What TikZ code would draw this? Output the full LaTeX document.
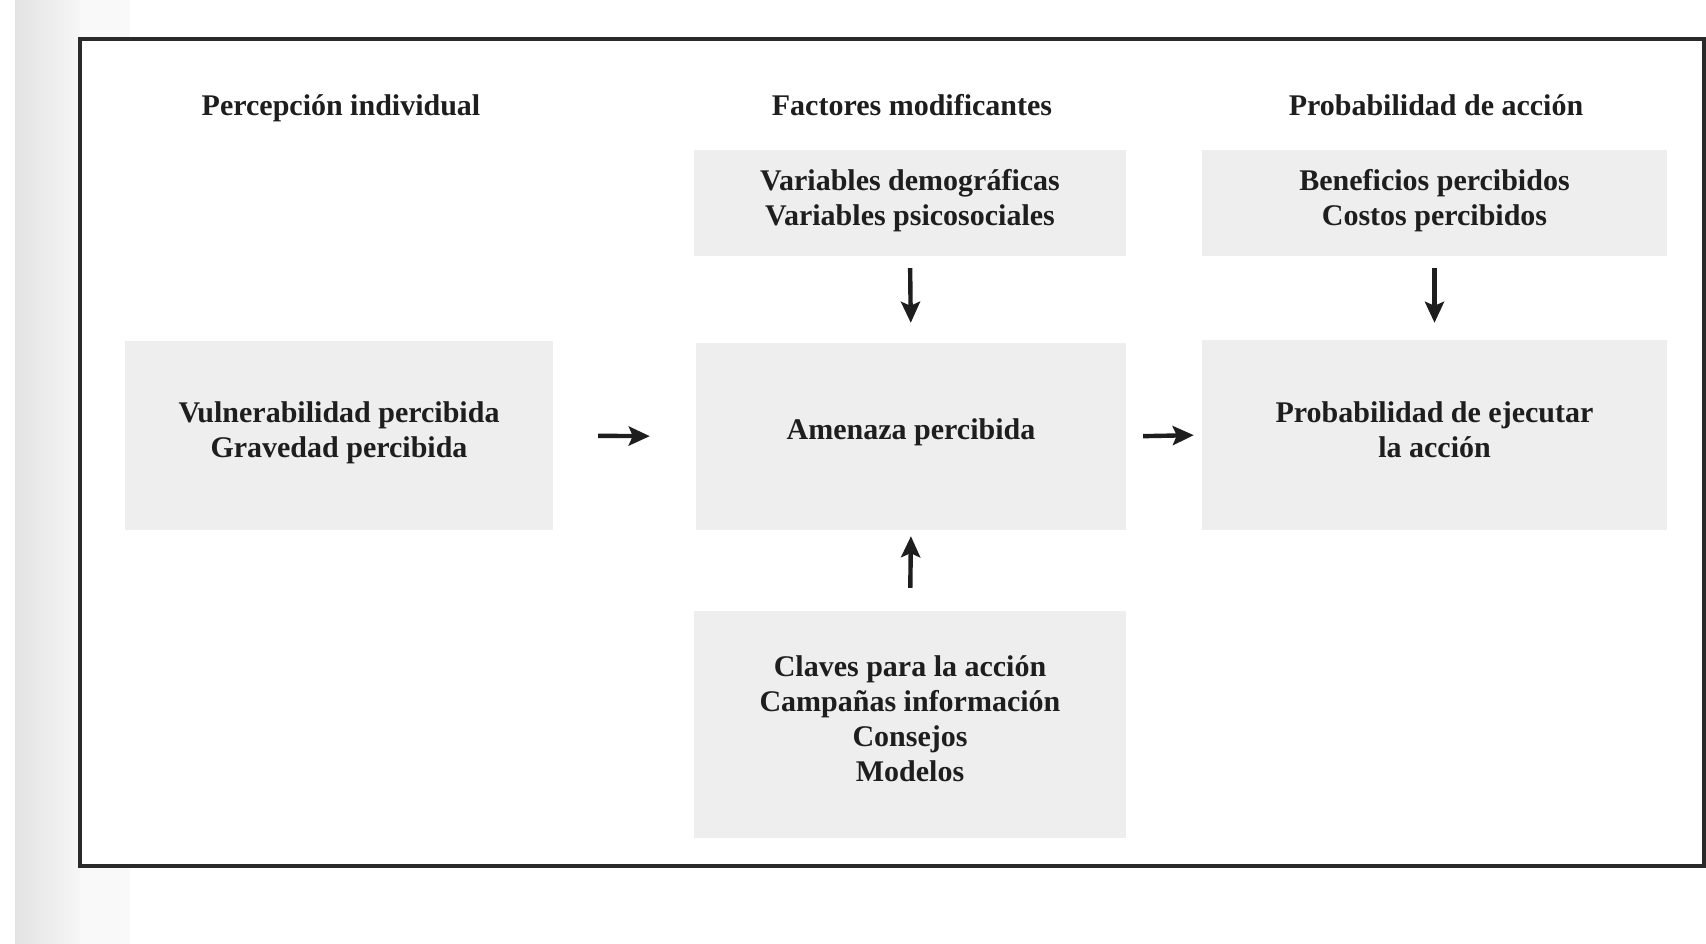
\documentclass[tikz,border=0pt]{standalone}
\usepackage{fontspec}
\setmainfont{Liberation Serif}
\usetikzlibrary{arrows.meta}
\definecolor{boxgray}{HTML}{EEEEEE}
\definecolor{ink}{HTML}{1E1E1E}
\definecolor{framec}{HTML}{2A2A2A}
\begin{document}
\begin{tikzpicture}[x=1pt,y=-1pt,
  box/.style={fill=boxgray, draw=none, inner sep=0pt},
  txt/.style={inner sep=0pt, align=center, text=ink,
    font=\fontsize{30}{35}\selectfont\bfseries},
  head/.style={inner sep=0pt, text=ink, anchor=base,
    font=\fontsize{30}{35}\selectfont\bfseries},
  arr/.style={draw=ink, line width=4.4pt, -{Stealth[length=21pt,width=19pt,inset=4pt]}}]
\useasboundingbox (0,0) rectangle (1706,944);
\fill[white] (0,0) rectangle (1706,944);
% scanned page edge
\shade[left color=gray!22, right color=gray!7] (15,0) rectangle (80,944);
\fill[gray!5] (80,0) rectangle (130,944);
% frame
\draw[framec, line width=3.4pt, fill=white] (80,39) rectangle (1704,866);
% headers
\node[head] (h1) at (341,116) {Percepción individual};
\node[head] (h2) at (912,116) {Factores modificantes};
\node[head] (h3) at (1436,116) {Probabilidad de acción};
% boxes
\node[box, minimum width=428pt, minimum height=189pt] (L) at (339,435.5) {};
\node[box, minimum width=432pt, minimum height=106pt] (CT) at (910,203) {};
\node[box, minimum width=430pt, minimum height=187pt] (M) at (911,436.5) {};
\node[box, minimum width=432pt, minimum height=227pt] (CB) at (910,724.5) {};
\node[box, minimum width=465pt, minimum height=106pt] (RT) at (1434.5,203) {};
\node[box, minimum width=465pt, minimum height=190pt] (RM) at (1434.5,435) {};
% box texts
\node[txt, yshift=3pt] (Lt) at (L) {Vulnerabilidad percibida\\Gravedad percibida};
\node[txt, yshift=2pt] (CTt) at (CT) {Variables demográficas\\Variables psicosociales};
\node[txt, yshift=4pt] (Mt) at (M) {Amenaza percibida};
\node[txt, yshift=6pt] (CBt) at (CB) {Claves para la acción\\Campañas información\\Consejos\\Modelos};
\node[txt, yshift=2pt] (RTt) at (RT) {Beneficios percibidos\\Costos percibidos};
\node[txt, yshift=5pt] (RMt) at (RM) {Probabilidad de ejecutar\\la acción};
% arrows
\draw[arr, shorten <=45pt, shorten >=46pt] (L.east) -- (M.west);
\draw[arr, shorten <=17pt, shorten >=8pt] (M.east) -- (RM.west);
\draw[arr, shorten <=12pt, shorten >=20pt] (CT.south) -- (M.north);
\draw[arr, shorten <=23pt, shorten >=6pt] (CB.north) -- (M.south);
\draw[arr, shorten <=12pt, shorten >=17pt] (RT.south) -- (RM.north);
\end{tikzpicture}
\end{document}
